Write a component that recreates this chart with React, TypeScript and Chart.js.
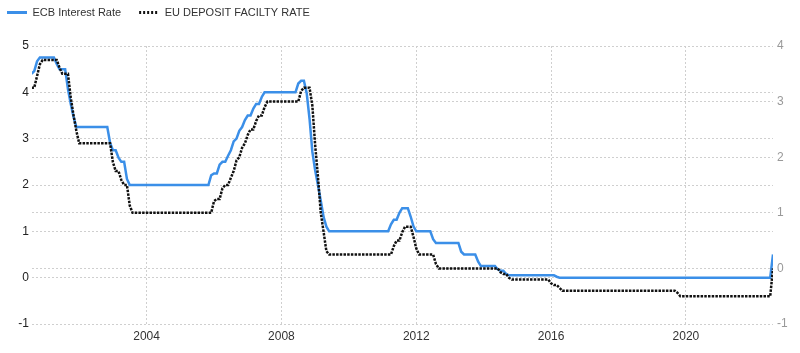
import React, { useEffect, useRef } from 'react';
import { Chart, registerables } from 'chart.js';

Chart.register(...registerables);
Chart.defaults.font.family = "'Liberation Sans', Arial, sans-serif";

const ECB_LABEL = 'ECB Interest Rate';
const DFR_LABEL = 'EU DEPOSIT FACILTY RATE';

// ECB main refinancing rate (left axis), month / value pairs
const ECB_DATES = [
  '2000-08', '2000-09', '2000-10', '2000-11', '2001-04', '2001-05', '2001-06', '2001-08', '2001-09', '2001-10',
  '2001-11', '2001-12', '2002-11', '2002-12', '2003-01', '2003-02', '2003-03', '2003-04', '2003-05', '2003-06',
  '2003-07', '2005-11', '2005-12', '2006-01', '2006-02', '2006-03', '2006-04', '2006-05', '2006-06', '2006-07',
  '2006-08', '2006-09', '2006-10', '2006-11', '2006-12', '2007-01', '2007-02', '2007-03', '2007-04', '2007-05',
  '2007-06', '2007-07', '2008-06', '2008-07', '2008-08', '2008-09', '2008-10', '2008-11', '2008-12', '2009-01',
  '2009-02', '2009-03', '2009-04', '2009-05', '2009-06', '2011-03', '2011-04', '2011-05', '2011-06', '2011-07',
  '2011-08', '2011-10', '2011-11', '2011-12', '2012-01', '2012-06', '2012-07', '2012-08', '2013-04', '2013-05',
  '2013-06', '2013-10', '2013-11', '2013-12', '2014-05', '2014-06', '2014-07', '2014-08', '2014-09', '2014-10',
  '2016-02', '2016-03', '2016-04', '2022-07', '2022-08',
];
const ECB_RATES = [
  4.4, 4.46, 4.67, 4.75, 4.75, 4.61, 4.5, 4.5, 4.07, 3.75,
  3.47, 3.25, 3.25, 2.91, 2.75, 2.75, 2.59, 2.5, 2.5, 2.13,
  2.0, 2.0, 2.21, 2.25, 2.25, 2.44, 2.5, 2.5, 2.63, 2.75,
  2.94, 3.0, 3.17, 3.25, 3.4, 3.5, 3.5, 3.65, 3.75, 3.75,
  3.9, 4.0, 4.0, 4.19, 4.25, 4.25, 3.98, 3.43, 2.72, 2.32,
  2.0, 1.66, 1.31, 1.1, 1.0, 1.0, 1.15, 1.25, 1.25, 1.4,
  1.5, 1.5, 1.32, 1.11, 1.0, 1.0, 0.83, 0.75, 0.75, 0.56,
  0.5, 0.5, 0.35, 0.25, 0.25, 0.18, 0.15, 0.15, 0.08, 0.05,
  0.05, 0.02, 0.0, 0.0, 0.5,
];

// Deposit facility rate (right axis), month / value pairs
const DFR_DATES = [
  '2000-08', '2000-09', '2000-10', '2000-11', '2000-12', '2001-05', '2001-06', '2001-07', '2001-09', '2001-10',
  '2001-11', '2001-12', '2002-01', '2002-12', '2003-01', '2003-02', '2003-03', '2003-04', '2003-05', '2003-06',
  '2003-07', '2003-08', '2005-12', '2006-01', '2006-02', '2006-03', '2006-04', '2006-05', '2006-06', '2006-07',
  '2006-08', '2006-09', '2006-10', '2006-11', '2006-12', '2007-01', '2007-02', '2007-03', '2007-04', '2007-05',
  '2007-06', '2007-07', '2007-08', '2008-07', '2008-08', '2008-09', '2008-11', '2008-12', '2009-01', '2009-02',
  '2009-03', '2009-04', '2009-05', '2009-06', '2011-04', '2011-05', '2011-06', '2011-07', '2011-08', '2011-09',
  '2011-11', '2011-12', '2012-01', '2012-02', '2012-07', '2012-08', '2012-09', '2014-06', '2014-07', '2014-08',
  '2014-09', '2014-10', '2014-11', '2015-12', '2016-01', '2016-02', '2016-03', '2016-04', '2016-05', '2019-09',
  '2019-10', '2019-11', '2022-07', '2022-08',
];
const DFR_RATES = [
  3.25, 3.25, 3.46, 3.67, 3.75, 3.75, 3.61, 3.5, 3.5, 3.07,
  2.75, 2.47, 2.25, 2.25, 1.91, 1.75, 1.75, 1.59, 1.5, 1.5,
  1.13, 1.0, 1.0, 1.21, 1.25, 1.25, 1.44, 1.5, 1.5, 1.63,
  1.75, 1.94, 2.0, 2.17, 2.25, 2.4, 2.5, 2.5, 2.65, 2.75,
  2.75, 2.9, 3.0, 3.0, 3.19, 3.25, 3.25, 2.93, 2.22, 1.65,
  1.0, 0.66, 0.31, 0.25, 0.25, 0.4, 0.5, 0.5, 0.65, 0.75,
  0.75, 0.57, 0.36, 0.25, 0.25, 0.08, 0.0, 0.0, -0.07, -0.1,
  -0.1, -0.17, -0.2, -0.2, -0.27, -0.3, -0.3, -0.35, -0.4, -0.4,
  -0.44, -0.5, -0.5, 0.0,
];

const X_TICKS = [2004, 2008, 2012, 2016, 2020];
const X_MIN = 2000.6;
const X_MAX = 2022.583;
const LEFT_MIN = -1;
const LEFT_MAX = 5;
const RIGHT_MIN = -1;
const RIGHT_MAX = 4;

const BLUE = '#3b8fe8';
const BLACK = '#111111';
const GRID = '#cfcfcf';

function ym(s: string): number {
  const [y, m] = s.split('-').map(Number);
  return y + (m - 1) / 12;
}
function toPoints(dates: string[], vals: number[]) {
  return dates.map((d, i) => ({ x: ym(d), y: vals[i] }));
}

const legendSpace = {
  id: 'legendSpace',
  beforeLayout(chart: any) {
    const lg = chart.legend;
    if (lg && !lg.__patched) {
      const orig = lg.fit;
      lg.fit = function () {
        orig.call(this);
        this.height = 57;
      };
      lg.__patched = true;
    }
  },
};

export default function App() {
  const ref = useRef<HTMLCanvasElement | null>(null);

  useEffect(() => {
    if (!ref.current) return;
    const chart = new Chart(ref.current, {
      type: 'line',
      data: {
        datasets: [
          {
            label: ECB_LABEL,
            data: toPoints(ECB_DATES, ECB_RATES),
            borderColor: BLUE,
            backgroundColor: BLUE,
            borderWidth: 2.5,
            pointRadius: 0,
            tension: 0,
            yAxisID: 'y',
            order: 1,
          },
          {
            label: DFR_LABEL,
            data: toPoints(DFR_DATES, DFR_RATES),
            borderColor: BLACK,
            backgroundColor: BLACK,
            borderWidth: 2.5,
            borderDash: [2.5, 1.2],
            pointRadius: 0,
            tension: 0,
            yAxisID: 'y1',
            order: 0,
          },
        ],
      },
      plugins: [legendSpace],
      options: {
        animation: false,
        responsive: false,
        layout: { padding: { top: -11, left: -11, right: 0, bottom: 0 } },
        plugins: {
          legend: {
            position: 'top',
            align: 'start',
            labels: {
              usePointStyle: true,
              pointStyleWidth: 20,
              padding: 18,
              color: '#333',
              font: { size: 11 },
              generateLabels: (c: any) =>
                c.data.datasets.map((ds: any, i: number) => ({
                  text: ds.label,
                  fillStyle: ds.borderColor,
                  strokeStyle: ds.borderColor,
                  lineWidth: 3,
                  lineDash: i === 1 ? [2, 2] : [],
                  lineCap: 'butt',
                  pointStyle: 'line',
                  hidden: false,
                  datasetIndex: i,
                  fontColor: '#333',
                })),
            },
          },
          tooltip: { enabled: false },
        },
        scales: {
          x: {
            type: 'linear',
            min: X_MIN,
            max: X_MAX,
            afterBuildTicks: (s: any) => {
              s.ticks = X_TICKS.map((v) => ({ value: v }));
            },
            afterFit: (s: any) => {
              s.height = 29;
            },
            ticks: {
              callback: (v: any) => String(v),
              color: '#333',
              font: { size: 12 },
              padding: 5,
              maxRotation: 0,
              autoSkip: false,
            },
            grid: { color: GRID, drawTicks: false },
            border: { display: false, dash: [2, 2] },
          },
          y: {
            position: 'left',
            min: LEFT_MIN,
            max: LEFT_MAX,
            afterFit: (s: any) => {
              s.width = 43;
            },
            ticks: { stepSize: 1, color: '#222', font: { size: 12 }, padding: 3 },
            grid: { color: GRID, drawTicks: false },
            border: { display: false, dash: [2, 2] },
          },
          y1: {
            position: 'right',
            min: RIGHT_MIN,
            max: RIGHT_MAX,
            afterFit: (s: any) => {
              s.width = 27;
            },
            ticks: { stepSize: 1, color: '#999', font: { size: 12 }, padding: 4 },
            grid: { color: GRID, drawTicks: false },
            border: { display: false, dash: [2, 2] },
          },
        },
      } as any,
    });
    return () => chart.destroy();
  }, []);

  return (
    <div style={{ position: 'absolute', left: 0, top: 0, width: 800, height: 353, background: '#fff' }}>
      <canvas ref={ref} width={800} height={353} style={{ display: 'block' }} />
    </div>
  );
}
